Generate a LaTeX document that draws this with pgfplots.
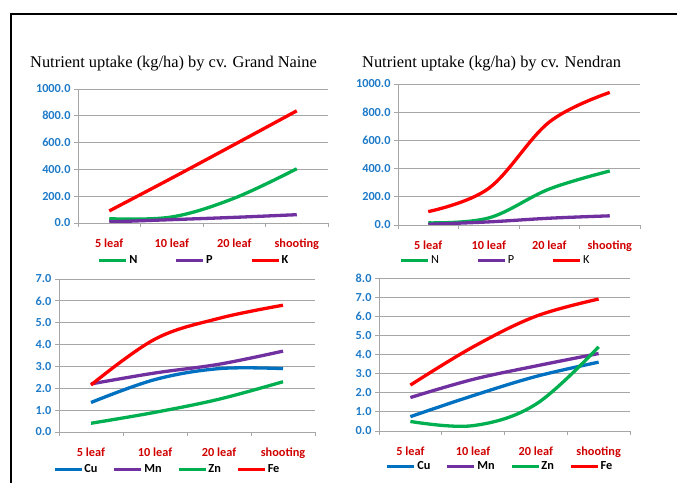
\documentclass[border=0pt]{standalone}
\usepackage{pgfplots}
\pgfplotsset{compat=1.18}
\usepackage{fontspec}
\setmainfont{Carlito}
\newfontfamily\titlefont{Liberation Serif}
\definecolor{cGreen}{HTML}{00B050}
\definecolor{cPurple}{HTML}{7030A0}
\definecolor{cRed}{HTML}{FF0000}
\definecolor{cBlue}{HTML}{0070C0}
\definecolor{tickblue}{HTML}{1F7BC8}
\definecolor{labred}{HTML}{D00000}
\definecolor{gridgray}{HTML}{A6A6A6}

\pgfplotsset{
  myax/.style={
    scale only axis, anchor=south west,
    xmin=-0.5, xmax=3.5, ymin=0,
    axis lines*=left,
    axis line style={draw=gridgray, line width=0.8bp},
    ymajorgrids, grid style={draw=gridgray, line width=0.8bp},
    xtick={-0.5,0.5,1.5,2.5,3.5}, xticklabels={},
    tick align=outside, major tick length=4bp,
    major tick style={draw=gridgray, line width=0.8bp},
    extra x ticks={0,1,2,3},
    extra x tick labels={5 leaf,10 leaf,20 leaf,shooting},
    extra x tick style={grid=none, major tick length=0pt, tick label style={yshift=-12bp}},
    xticklabel style={font=\fontsize{12.3bp}{14bp}\selectfont\bfseries, text=labred},
    yticklabel style={font=\fontsize{12.3bp}{14bp}\selectfont\bfseries, text=tickblue},
    /pgf/number format/.cd, fixed, fixed zerofill, precision=1, 1000 sep={}, assume math mode=true, /pgfplots/.cd,
    every axis plot/.append style={line width=3.3bp, smooth, tension=0.6, no markers},
    legend columns=-1,
    legend style={draw=none, fill=none, inner sep=0pt, outer sep=0pt,
      font=\fontsize{12.3bp}{14bp}\selectfont\bfseries, anchor=west,
      nodes={inner sep=1.5bp}},
    legend image code/.code={\draw[#1, line width=2.8bp] (0bp,0bp) -- (27bp,0bp);},
  }
}

\begin{document}
\begin{tikzpicture}[x=1bp,y=1bp]
\useasboundingbox (0,0) rectangle (677,483);
\draw[black, line width=1.3bp] (11,-2) -- (11,469) -- (680,469);
\node[anchor=base west, inner sep=0pt, font=\titlefont\fontsize{16.4bp}{18bp}\selectfont] at (30,415) {Nutrient uptake (kg/ha) by cv. Grand Naine};
\node[anchor=base west, inner sep=0pt, font=\titlefont\fontsize{16.4bp}{18bp}\selectfont] at (362,415) {Nutrient uptake (kg/ha) by cv. Nendran};

% Top-left: Grand Naine macro
\begin{axis}[myax, at={(78bp,260bp)}, width=250bp, height=134bp,
  ymax=1000, ytick={0,200,...,1000},
  legend style={at={(0.08,-0.28)}, /tikz/every even column/.append style={column sep=36bp}}]
\addplot[cGreen] coordinates {(0,32) (1,45) (2,185) (3,405)};
\addplot[cPurple] coordinates {(0,8) (1,25) (2,42) (3,62)};
\addplot[cRed] coordinates {(0,90) (1,335) (2,585) (3,837)};
\legend{N,P,K}
\end{axis}

% Top-right: Nendran macro
\begin{axis}[myax, at={(398bp,258bp)}, width=242bp, height=141bp,
  ymax=1000, ytick={0,200,...,1000},
  legend style={at={(0.008,-0.25)}, font=\fontsize{12.3bp}{14bp}\selectfont, /tikz/every even column/.append style={column sep=36bp}}]
\addplot[cGreen] coordinates {(0,15) (1,50) (2,255) (3,383)};
\addplot[cPurple] coordinates {(0,5) (1,22) (2,48) (3,65)};
\addplot[cRed] coordinates {(0,95) (1,260) (2,730) (3,940)};
\legend{N,P,K}
\end{axis}

% Bottom-left: Grand Naine micro
\begin{axis}[myax, at={(59bp,51bp)}, width=256bp, height=153bp,
  ymax=7, ytick={0,1,...,7},
  legend style={at={(-0.023,-0.245)}, /tikz/every even column/.append style={column sep=14bp}}]
\addplot[cBlue] coordinates {(0,1.35) (1,2.4) (2,2.9) (3,2.9)};
\addplot[cPurple] coordinates {(0,2.2) (1,2.7) (2,3.1) (3,3.7)};
\addplot[cGreen] coordinates {(0,0.4) (1,0.9) (2,1.5) (3,2.3)};
\addplot[cRed] coordinates {(0,2.15) (1,4.25) (2,5.2) (3,5.8)};
\legend{Cu,Mn,Zn,Fe}
\end{axis}

% Bottom-right: Nendran micro
\begin{axis}[myax, at={(379bp,52bp)}, width=251bp, height=153bp,
  ymax=8, ytick={0,1,...,8},
  legend style={at={(0.028,-0.232)}, /tikz/every even column/.append style={column sep=14bp}}]
\addplot[cBlue] coordinates {(0,0.75) (1,1.85) (2,2.85) (3,3.6)};
\addplot[cPurple] coordinates {(0,1.75) (1,2.7) (2,3.4) (3,4.05)};
\addplot[cGreen] coordinates {(0,0.5) (1,0.28) (2,1.4) (3,4.4)};
\addplot[cRed] coordinates {(0,2.4) (1,4.4) (2,6.0) (3,6.9)};
\legend{Cu,Mn,Zn,Fe}
\end{axis}
\end{tikzpicture}
\end{document}
